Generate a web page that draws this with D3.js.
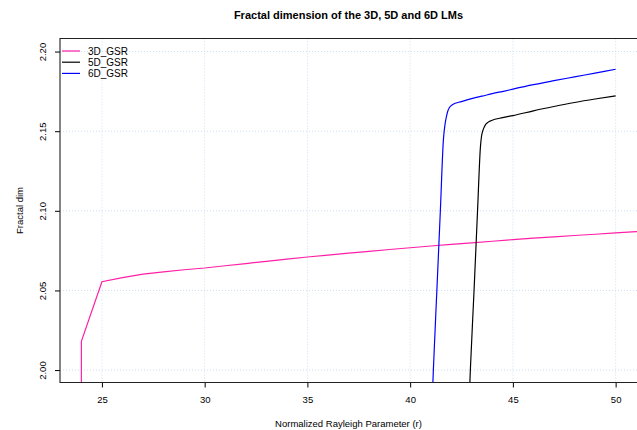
<!DOCTYPE html>
<html>
  <head>
    <script src="https://d3js.org/d3.v7.min.js"></script>
    <style>
      body { margin: 0; background: #fff; }
      svg { font-family: "Liberation Sans", Arial, sans-serif; }
      .grid line { stroke: #cfdcf3; stroke-dasharray: 1,2; }
      .axis path, .axis line { fill: none; stroke: #000; }
      .axis text { font-size: 9.5px; font-family: "Liberation Sans", Arial, sans-serif; fill: #000; }
    </style>
  </head>
  <body>
    <script>
      // data
      var gsr3R   = [24, 24, 25, 26, 27, 28, 29, 30, 31, 32, 33, 34, 35, 36, 37, 38, 39, 40,
                     41, 42, 43, 44, 45, 46, 47, 48, 49, 50, 51, 52];
      var gsr3Dim = [1.97, 2.018, 2.0555, 2.0580, 2.0602, 2.0617, 2.0630, 2.0641, 2.0655, 2.0669,
                     2.0683, 2.0697, 2.0710, 2.0722, 2.0734, 2.0745, 2.0757, 2.0768, 2.0779, 2.0789,
                     2.0799, 2.0809, 2.0819, 2.0828, 2.0837, 2.0845, 2.0853, 2.0861, 2.0869, 2.0877];

      var gsr5R   = [42.87, 42.93, 43.11, 43.28, 43.42, 43.47, 43.53, 43.64, 43.8, 43.96,
                     44.5, 45, 46, 47, 48, 49, 50];
      var gsr5Dim = [1.98, 2.0, 2.05, 2.10, 2.140, 2.1465, 2.150, 2.1535, 2.1557, 2.1567,
                     2.1585, 2.1598, 2.1628, 2.1655, 2.1680, 2.1702, 2.1722];

      var gsr6R   = [41.07, 41.13, 41.30, 41.47, 41.62, 41.70, 41.78, 41.83, 41.92, 42.07,
                     42.5, 43.13, 43.5, 44, 44.59, 45, 46, 47, 48, 49, 50];
      var gsr6Dim = [1.98, 2.0, 2.05, 2.10, 2.145, 2.1545, 2.1600, 2.1625, 2.1650, 2.1667,
                     2.1686, 2.1709, 2.1720, 2.1736, 2.1752, 2.1764, 2.1792,
                     2.1817, 2.1841, 2.1865, 2.1889];

      var seriesNames  = ["3D_GSR", "5D_GSR", "6D_GSR"];
      var seriesColors = ["#ff1fa6", "#000000", "#0000ff"];
      var xTicks = [25, 30, 35, 40, 45, 50];
      var yTicks = [2.00, 2.05, 2.10, 2.15, 2.20];

      var W = 637, H = 430;
      var pLeft = 60, pTop = 38.5, pRight = 637, pBottom = 382.5;

      var x = d3.scaleLinear().domain([22.96, 51.04]).range([pLeft, pRight]);
      var y = d3.scaleLinear().domain([1.9922, 2.2082]).range([pBottom, pTop]);

      var svg = d3.select("body").append("svg")
        .attr("width", W)
        .attr("height", H);

      svg.append("defs").append("clipPath").attr("id", "clip")
        .append("rect")
        .attr("x", pLeft).attr("y", pTop)
        .attr("width", pRight - pLeft).attr("height", pBottom - pTop);

      // grid
      var grid = svg.append("g").attr("class", "grid");
      grid.selectAll(".gx").data(xTicks).enter().append("line")
        .attr("x1", function(d) { return x(d); }).attr("x2", function(d) { return x(d); })
        .attr("y1", pTop).attr("y2", pBottom);
      grid.selectAll(".gy").data(yTicks).enter().append("line")
        .attr("x1", pLeft).attr("x2", pRight)
        .attr("y1", function(d) { return y(d); }).attr("y2", function(d) { return y(d); });

      // lines
      var line = d3.line()
        .x(function(d) { return x(d[0]); })
        .y(function(d) { return y(d[1]); });

      var plot = svg.append("g").attr("clip-path", "url(#clip)");
      var series = [
        { pts: d3.zip(gsr3R, gsr3Dim), curve: d3.curveLinear },
        { pts: d3.zip(gsr5R, gsr5Dim), curve: d3.curveMonotoneX },
        { pts: d3.zip(gsr6R, gsr6Dim), curve: d3.curveMonotoneX }
      ];
      series.forEach(function(s, i) {
        plot.append("path")
          .attr("d", line.curve(s.curve)(s.pts))
          .attr("fill", "none")
          .attr("stroke", seriesColors[i])
          .attr("stroke-width", 1.2);
      });

      // x axis
      svg.append("g")
        .attr("class", "axis")
        .attr("transform", "translate(0," + pBottom + ")")
        .call(d3.axisBottom(x).tickValues(xTicks).tickSize(5).tickPadding(9).tickFormat(d3.format("d")))
        .call(function(g) { g.select(".domain").remove(); });

      // y axis, labels turned like R's las=0
      var yAxis = svg.append("g")
        .attr("class", "axis")
        .attr("transform", "translate(" + pLeft + ",0)")
        .call(d3.axisLeft(y).tickValues(yTicks).tickSize(5).tickFormat(d3.format(".2f")))
        .call(function(g) { g.select(".domain").remove(); });
      yAxis.selectAll(".tick text")
        .attr("x", null).attr("dy", null)
        .attr("text-anchor", "middle")
        .attr("transform", "translate(-17,0) rotate(-90)")
        .attr("y", "0.35em");

      // box
      svg.append("path")
        .attr("d", "M" + pRight + "," + pTop + "H" + pLeft + "V" + pBottom + "H" + pRight)
        .attr("fill", "none").attr("stroke", "#222").attr("stroke-width", 1.1);

      // titles
      svg.append("text")
        .attr("x", (pLeft + pRight) / 2).attr("y", 19)
        .attr("text-anchor", "middle")
        .style("font-size", "11px").style("font-weight", "bold")
        .text("Fractal dimension of the 3D, 5D and 6D LMs");
      svg.append("text")
        .attr("x", (pLeft + pRight) / 2).attr("y", 427)
        .attr("text-anchor", "middle")
        .style("font-size", "9.5px")
        .text("Normalized Rayleigh Parameter (r)");
      svg.append("text")
        .attr("transform", "translate(23," + ((pTop + pBottom) / 2) + ") rotate(-90)")
        .attr("text-anchor", "middle")
        .style("font-size", "9.5px")
        .text("Fractal dim");

      // legend
      var legend = svg.append("g").attr("transform", "translate(62,51)");
      seriesNames.forEach(function(name, i) {
        legend.append("line")
          .attr("x1", 0).attr("x2", 18)
          .attr("y1", i * 11.2).attr("y2", i * 11.2)
          .attr("stroke", seriesColors[i]).attr("stroke-width", 1.2);
        legend.append("text")
          .attr("x", 26).attr("y", i * 11.2).attr("dy", "0.35em")
          .style("font-size", "10px")
          .text(name);
      });
    </script>
  </body>
</html>
